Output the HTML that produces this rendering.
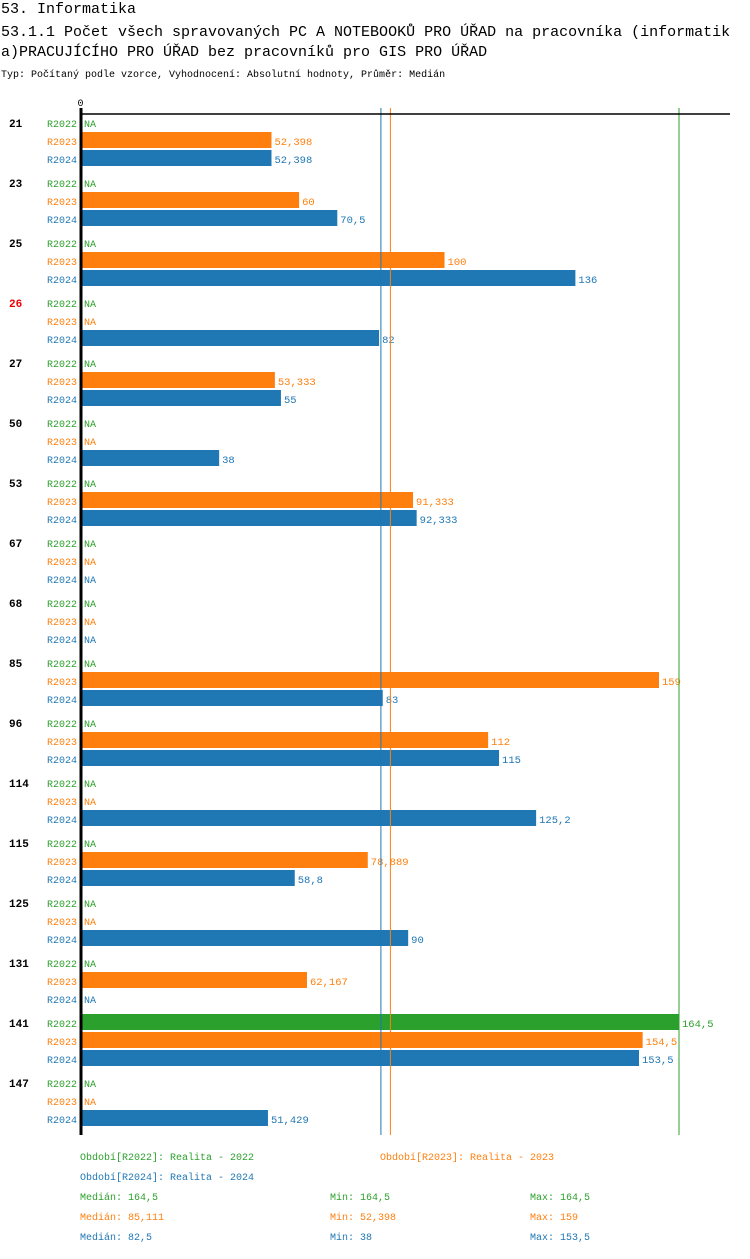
<!DOCTYPE html>
<html><head><meta charset="utf-8">
<style>
body{margin:0;background:#fff;width:750px;height:1254px;overflow:hidden;font-family:"Liberation Mono",monospace;}
svg text{font-family:"Liberation Mono",monospace;}
</style></head>
<body>
<svg id="chart" width="750" height="1254" xmlns="http://www.w3.org/2000/svg">
<text x="1" y="13" font-size="15" fill="#000">53. Informatika</text>
<text x="1" y="36" font-size="15" fill="#000">53.1.1 Počet všech spravovaných PC A NOTEBOOKŮ PRO ÚŘAD na pracovníka (informatik</text>
<text x="1" y="56" font-size="15" fill="#000">a)PRACUJÍCÍHO PRO ÚŘAD bez pracovníků pro GIS PRO ÚŘAD</text>
<text x="1" y="77" font-size="10" fill="#000">Typ: Počítaný podle vzorce, Vyhodnocení: Absolutní hodnoty, Průměr: Medián</text>
<g id="plot"></g>
</svg>
<script>
const categories=["21","23","25","26","27","50","53","67","68","85","96","114","115","125","131","141","147"];
const highlighted=["26"];
const r2022=[null,null,null,null,null,null,null,null,null,null,null,null,null,null,null,164.5,null];
const r2023=[52.398,60,100,null,53.333,null,91.333,null,null,159,112,null,78.889,null,62.167,154.5,null];
const r2024=[52.398,70.5,136,82,55,38,92.333,null,null,83,115,125.2,58.8,90,null,153.5,51.429];
const seriesNames=["R2022","R2023","R2024"];
const colors=["#2ca02c","#ff7f0e","#1f77b4"];
const medians=[164.5,85.111,82.5];
const mins=[164.5,52.398,38];
const maxs=[164.5,159,153.5];
const NS="http://www.w3.org/2000/svg";
const g=document.getElementById('plot');
const x0=81,scale=(679-81)/164.5;
const X=v=>x0+v*scale;
const rowY=(i,s)=>123+i*60+s*18;
function el(t,a,txt){const e=document.createElementNS(NS,t);for(const k in a)e.setAttribute(k,a[k]);if(txt!==undefined)e.textContent=txt;g.appendChild(e);return e;}
const fmt=v=>String(v).replace('.',',');
const all=[r2022,r2023,r2024];
categories.forEach((c,i)=>{
  const lab=el('text',{x:9,y:rowY(i,0)+4,'font-size':11,'font-weight':'bold',fill:highlighted.includes(c)?'#e00':'#000'},c);
  
  
  all.forEach((ser,s)=>{
    const y=rowY(i,s);
    const sl=el('text',{x:47,y:y+4,'font-size':10,fill:colors[s]},seriesNames[s]);
    
    
    const v=ser[i];
    if(v===null){
      const na=el('text',{x:84,y:y+4,'font-size':10,fill:colors[s]},'NA');
      
      
    }else{
      const r=el('rect',{x:x0,y:y-9,width:X(v)-x0,height:16,fill:colors[s]});
      
      
      const vt=el('text',{x:X(v)+3,y:y+4,'font-size':10.5,fill:colors[s]},fmt(v));
      
      
    }
  });
});
medians.forEach((m,s)=>{
  const l=el('line',{x1:X(m),x2:X(m),y1:108,y2:1135,stroke:colors[s],'stroke-width':1});
  
  
});
const ax=el('line',{x1:80,x2:730,y1:114,y2:114,stroke:'#000','stroke-width':1.5});


const ay=el('line',{x1:x0,x2:x0,y1:108,y2:1135,stroke:'#000','stroke-width':3});


const z=el('text',{x:77.5,y:106,'font-size':10,fill:'#000'},'0');


const legendItems=[[80,1160,0,'Období[R2022]: Realita - 2022'],[380,1160,1,'Období[R2023]: Realita - 2023'],[80,1180,2,'Období[R2024]: Realita - 2024']];
legendItems.forEach(a=>{
  const t=el('text',{x:a[0],y:a[1],'font-size':10,fill:colors[a[2]]},a[3]);
  
  
});
[0,1,2].forEach(s=>{
  const y=1200+s*20;
  const a=el('text',{x:80,y:y,'font-size':10,fill:colors[s]},'Medián: '+fmt(medians[s]));
  
  
  const b=el('text',{x:330,y:y,'font-size':10,fill:colors[s]},'Min: '+fmt(mins[s]));
  
  
  const d=el('text',{x:530,y:y,'font-size':10,fill:colors[s]},'Max: '+fmt(maxs[s]));
  
  
});
</script>
</body></html>
